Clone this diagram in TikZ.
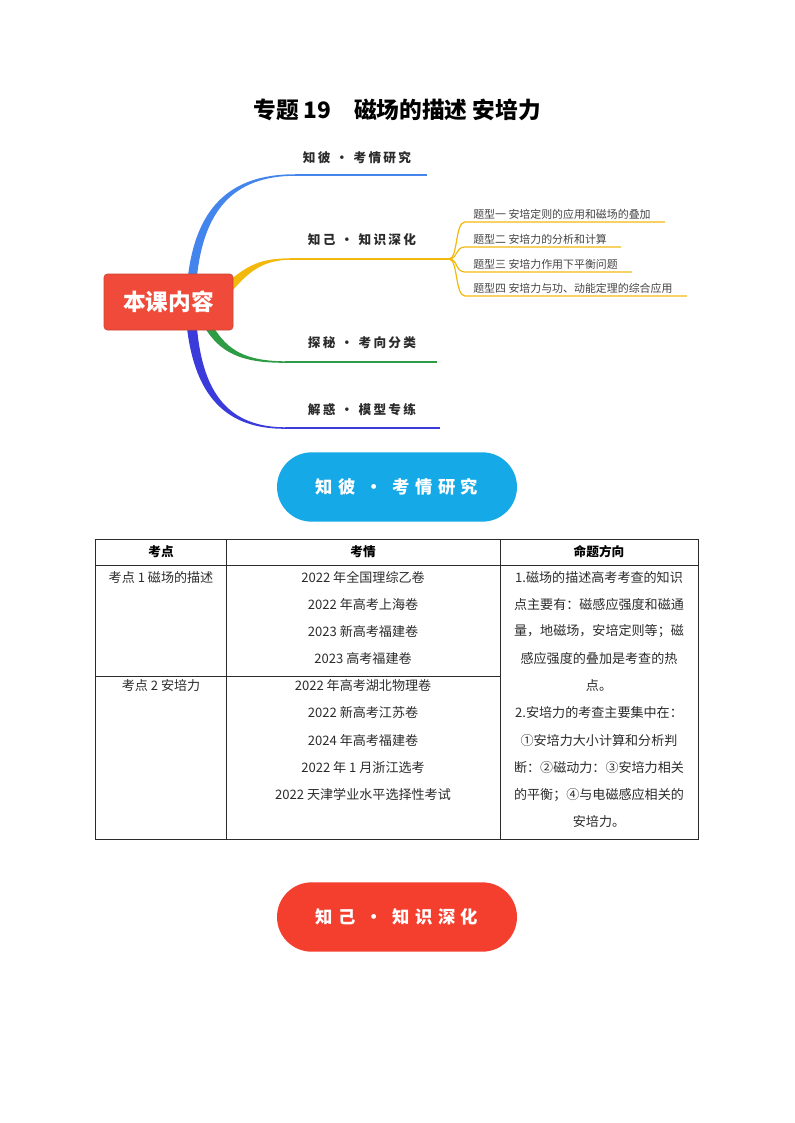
\documentclass[tikz,border=0pt]{standalone}
\usepackage{fontspec}
\setmainfont{Noto Sans CJK SC}
\newfontfamily\mmhand[LetterSpace=18]{Noto Sans CJK SC}
\newfontfamily\pillhand[LetterSpace=32]{Noto Sans CJK SC}
\usetikzlibrary{positioning,calc}
\definecolor{mmred}   {HTML}{F04B3A}
\definecolor{mmblue}  {HTML}{4385EC}
\definecolor{mmgold}  {HTML}{F3B80C}
\definecolor{mmgreen} {HTML}{2E9B45}
\definecolor{mmindigo}{HTML}{3B3BDB}
\definecolor{mmink}   {HTML}{2B2B2B}
\definecolor{mmgrey}  {HTML}{444444}
\definecolor{pillcyan}{HTML}{15A9E8}
\definecolor{pillred} {HTML}{F43F2F}
\tikzset{
  mmhub/.style={fill=mmred, draw=mmred!85!black, rounded corners=2.5pt, text=white,
                minimum width=96.75pt, minimum height=42pt,
                font=\bfseries\fontsize{17}{20}\selectfont},
  mmlabel/.style={font=\mmhand\bfseries\fontsize{9.5}{11}\selectfont, text=mmink},
  mmsublabel/.style={font=\fontsize{8.2}{9.5}\selectfont, text=mmgrey, anchor=south west,
                     inner xsep=6pt, inner ysep=1.6pt},
  mmstem/.style={line width=1.1pt},
  mmsub/.style={draw=mmgold, line width=0.9pt},
  pill/.style={rounded corners=26pt, minimum width=180pt, minimum height=52pt,
               text=white, font=\pillhand\bfseries\fontsize{13}{15}\selectfont},
  tbline/.style={draw=mmink, line width=0.7pt},
  tbhead/.style={font=\bfseries\fontsize{9.5}{11}\selectfont},
  tbcell/.style={font=\fontsize{9.8}{11}\selectfont, text=mmink},
}
\begin{document}
\begin{tikzpicture}[x=0.75pt,y=-0.75pt]
  \useasboundingbox (0,0) rectangle (794,1123);
  \node[font=\bfseries\fontsize{17}{20}\selectfont] (title) at (397,110)
    {专题 19\quad 磁场的描述\ 安培力};

  % branches of the mind map
  \fill[mmblue] (188,276) .. controls (196,210) and (228,174) .. (295,174.3)
    -- (295,175.8) .. controls (232,176) and (204,212) .. (197,276) -- cycle;
  \fill[mmgold] (230,280) .. controls (250,264) and (262,258.5) .. (290,258.3)
    -- (290,259.8) .. controls (265,260) and (250,270) .. (233,290) -- cycle;
  \fill[mmgreen] (205,328) .. controls (220,352) and (240,363) .. (285,362.8)
    -- (285,361.3) .. controls (245,361) and (228,350) .. (214,328) -- cycle;
  \fill[mmindigo] (187,328) .. controls (195,395) and (225,429) .. (285,428.8)
    -- (285,427.3) .. controls (230,427) and (203,395) .. (197,328) -- cycle;

  \coordinate (b1) at (295,175);  \coordinate (e1) at (427,175);
  \coordinate (b2) at (290,259);  \coordinate (fan) at (449,259);
  \coordinate (b3) at (285,362);  \coordinate (e3) at (437,362);
  \coordinate (b4) at (285,428);  \coordinate (e4) at (440,428);
  \draw[mmstem,mmblue]   (b1) -- (e1);
  \draw[mmstem,mmgold]   (b2) -- (fan);
  \draw[mmstem,mmgreen]  (b3) -- (e3);
  \draw[mmstem,mmindigo] (b4) -- (e4);

  \node[mmhub] (hub) at (168.5,302) {本课内容};

  \node[mmlabel] (lb1) at (357,158) {知彼 · 考情研究};
  \node[mmlabel] (lb2) at (362,240) {知己 · 知识深化};
  \node[mmlabel] (lb3) at (362,343) {探秘 · 考向分类};
  \node[mmlabel] (lb4) at (362,410) {解惑 · 模型专练};

  \foreach \i/\yy/\txt in {1/222/题型一 安培定则的应用和磁场的叠加,
                           2/247/题型二 安培力的分析和计算,
                           3/272/题型三 安培力作用下平衡问题,
                           4/296/题型四 安培力与功、动能定理的综合应用} {
    \node[mmsublabel] (t\i) at (465,\yy) {\txt};
    \draw[mmsub] (fan) .. controls (458,259) and (455,\yy) .. (t\i.south west)
      -- ($(t\i.south east)+(6,0)$);
  }

  \node[pill,fill=pillcyan] (pill1) at (397,487) {知彼 · 考情研究};

  % table
  \draw[tbline] (95,539) rectangle (698,839);
  \draw[tbline] (226,539) -- (226,839);
  \draw[tbline] (500,539) -- (500,839);
  \draw[tbline] (95,565) -- (698,565);
  \draw[tbline] (95,676) -- (500,676);
  \node[tbhead] (h1) at (161,552) {考点};
  \node[tbhead] (h2) at (363,552) {考情};
  \node[tbhead] (h3) at (599,552) {命题方向};
  \node[tbcell] (k1) at (161,577) {考点 1\ 磁场的描述};
  \node[tbcell] (k2) at (161,686) {考点 2\ 安培力};
  \foreach \txt [count=\i] in {2022 年全国理综乙卷, 2022 年高考上海卷,
      2023 新高考福建卷, 2023 高考福建卷, 2022 年高考湖北物理卷,
      2022 新高考江苏卷, 2024 年高考福建卷, 2022 年 1 月浙江选考,
      2022 天津学业水平选择性考试}
    \node[tbcell] (q\i) at (363,{577+(\i-1)*27.2}) {\txt};
  \foreach \txt [count=\i] in {1.磁场的描述高考考查的知识, 点主要有：磁感应强度和磁通,
      量，地磁场，安培定则等；磁, 感应强度的叠加是考查的热, 点。,
      2.安培力的考查主要集中在：, ①安培力大小计算和分析判,
      断：②磁动力：③安培力相关, 的平衡；④与电磁感应相关的, 安培力。}
    \node[tbcell] (m\i) at (599,{577+(\i-1)*27.2}) {\txt};

  \node[pill,fill=pillred] (pill2) at (397,917) {知己 · 知识深化};
\end{tikzpicture}
\end{document}
